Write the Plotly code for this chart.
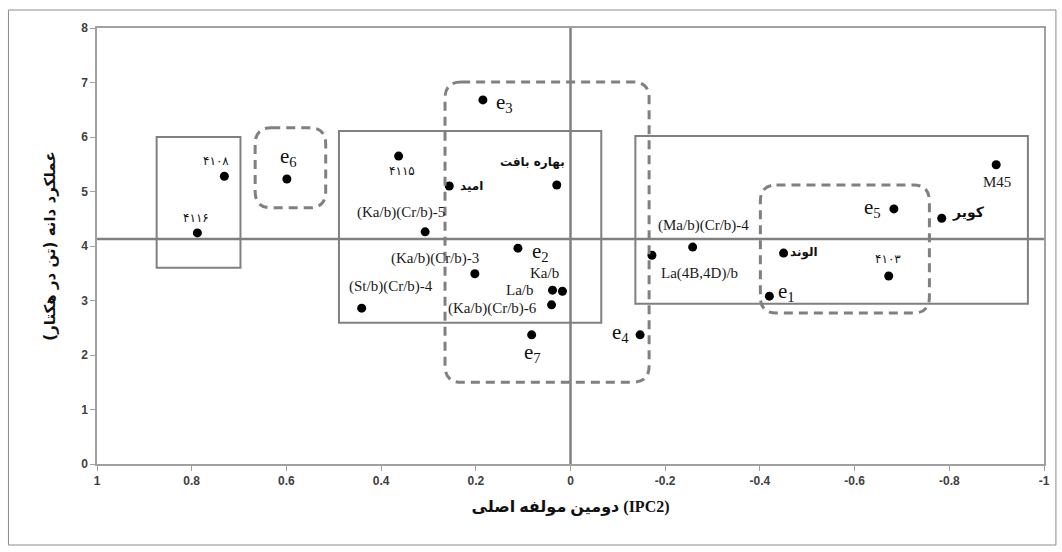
import plotly.graph_objects as go

# ---------------- data ----------------
labels = ["۴۱۰۸", "۴۱۱۶", "e6", "۴۱۱۵", "امید", "بهاره بافت", "(Ka/b)(Cr/b)-5", "e3",
          "e2", "(Ka/b)(Cr/b)-3", "(St/b)(Cr/b)-4", "La/b", "Ka/b", "(Ka/b)(Cr/b)-6",
          "e7", "e4", "La(4B,4D)/b", "(Ma/b)(Cr/b)-4", "الوند", "e1", "e5", "کویر",
          "M45", "۴۱۰۳"]
x_vals = [0.731, 0.788, 0.599, 0.363, 0.256, 0.029, 0.307, 0.185,
          0.111, 0.202, 0.441, 0.038, 0.017, 0.040,
          0.082, -0.147, -0.172, -0.258, -0.450, -0.420, -0.683, -0.784,
          -0.899, -0.672]
y_vals = [5.28, 4.24, 5.23, 5.65, 5.10, 5.12, 4.26, 6.68,
          3.96, 3.49, 2.86, 3.19, 3.17, 2.92,
          2.37, 2.37, 3.83, 3.98, 3.87, 3.08, 4.68, 4.51,
          5.49, 3.45]

mean_x = 0.0
mean_y = 4.13

x_ticks = [1, 0.8, 0.6, 0.4, 0.2, 0, -0.2, -0.4, -0.6, -0.8, -1]
y_ticks = [0, 1, 2, 3, 4, 5, 6, 7, 8]

# solid group boxes (x_left, x_right, y_bottom, y_top)
solid_boxes = [(0.874, 0.697, 3.60, 6.00),
               (0.489, -0.065, 2.59, 6.11),
               (-0.137, -0.966, 2.94, 6.02)]
# dashed rounded boxes
dashed_boxes = [(0.666, 0.517, 4.70, 6.17),
                (0.265, -0.166, 1.50, 7.01),
                (-0.401, -0.758, 2.77, 5.12)]

# label pixel offsets (dx, dy) relative to point ; dy positive = up
label_offsets = {
    "۴۱۰۸": (-8, 15), "۴۱۱۶": (-1, 15), "e6": (2, 22), "۴۱۱۵": (3, -15),
    "امید": (22, 0), "بهاره بافت": (-24, 23), "(Ka/b)(Cr/b)-5": (-24, 19),
    "e3": (22, -3), "e2": (23, -4), "(Ka/b)(Cr/b)-3": (-40, 15),
    "(St/b)(Cr/b)-4": (29, 22), "La/b": (-33, 0), "Ka/b": (-18, 18),
    "(Ka/b)(Cr/b)-6": (-59, -4), "e7": (1, -18), "e4": (-20, 2),
    "La(4B,4D)/b": (48, -18), "(Ma/b)(Cr/b)-4": (11, 22), "الوند": (20, 1),
    "e1": (17, 4), "e5": (-21, 1), "کویر": (27, 6), "M45": (1, -17),
    "۴۱۰۳": (-1, 17),
}
bold_persian = {"امید", "بهاره بافت", "الوند", "کویر"}

grey = "#808080"
fig = go.Figure()

fig.add_trace(go.Scatter(
    x=x_vals, y=y_vals, mode="markers",
    marker=dict(color="black", size=9),
    hoverinfo="text", text=labels, showlegend=False))

shapes = []
# center lines
shapes.append(dict(type="line", xref="x", yref="y", x0=mean_x, x1=mean_x, y0=0, y1=8,
                   line=dict(color=grey, width=2.5)))
shapes.append(dict(type="line", xref="paper", yref="y", x0=0, x1=1, y0=mean_y, y1=mean_y,
                   line=dict(color=grey, width=2.5)))
for (xl, xr, yb, yt) in solid_boxes:
    shapes.append(dict(type="rect", xref="x", yref="y", x0=xl, x1=xr, y0=yb, y1=yt,
                       line=dict(color=grey, width=2)))

rx, ry = 0.034, 0.30


def rounded(xl, xr, yb, yt):
    s = 1 if xl > xr else -1
    p = [f"M {xl - s*rx},{yt}", f"L {xr + s*rx},{yt}", f"Q {xr},{yt} {xr},{yt - ry}",
         f"L {xr},{yb + ry}", f"Q {xr},{yb} {xr + s*rx},{yb}",
         f"L {xl - s*rx},{yb}", f"Q {xl},{yb} {xl},{yb + ry}",
         f"L {xl},{yt - ry}", f"Q {xl},{yt} {xl - s*rx},{yt}", "Z"]
    return " ".join(p)


for (xl, xr, yb, yt) in dashed_boxes:
    shapes.append(dict(type="path", xref="x", yref="y", path=rounded(xl, xr, yb, yt),
                       line=dict(color=grey, width=3, dash="9px,6px")))

# outer chart frame
shapes.append(dict(type="rect", xref="paper", yref="paper", x0=-0.0935, x1=1.0126,
                   y0=-0.1858, y1=1.0413, line=dict(color="#8c8c8c", width=1), layer="below"))

annotations = []
for lab, x, y in zip(labels, x_vals, y_vals):
    dx, dy = label_offsets[lab]
    if lab.startswith("e") and len(lab) == 2:
        txt = f"e<sub>{lab[1]}</sub>"
        font = dict(family="Liberation Serif", size=21, color="#111111")
    elif any("\u0600" <= c <= "\u06FF" for c in lab):
        txt = f"<b>{lab}</b>" if lab in bold_persian else lab
        size = 14 if lab == "کویر" else 12
        font = dict(family="DejaVu Sans", size=size, color="#111111")
    else:
        txt = lab
        font = dict(family="Liberation Serif", size=15, color="#1a1a1a")
    annotations.append(dict(x=x, y=y, xref="x", yref="y", text=txt, showarrow=False,
                            xshift=dx, yshift=dy, font=font))

tick_font = dict(family="Liberation Sans", size=12, color="#404040")
fig.update_layout(
    width=1062, height=552,
    margin=dict(l=97, r=13, t=28, b=88),
    paper_bgcolor="white", plot_bgcolor="white",
    shapes=shapes, annotations=annotations,
    xaxis=dict(range=[1, -1], tickvals=x_ticks, ticktext=[f"{v:g}" for v in x_ticks],
               showgrid=False, zeroline=False, showline=True, mirror=True,
               linecolor="#a0a0a0", linewidth=1.5, ticks="outside", ticklen=5,
               tickcolor="#a0a0a0", tickfont=dict(tick_font, weight="bold"),
               title=dict(text="<b>دومین مولفه اصلی (IPC2)</b>", standoff=14,
                          font=dict(family="Liberation Serif, DejaVu Sans", size=16,
                                    color="#111111"))),
    yaxis=dict(range=[0, 8], tickvals=y_ticks, showgrid=False, zeroline=False,
               showline=True, mirror=True, linecolor="#a0a0a0", linewidth=1.5,
               ticks="outside", ticklen=5, tickcolor="#a0a0a0",
               tickfont=dict(tick_font, weight="bold"),
               title=dict(text="<b>عملکرد دانه (تن در هکتار)</b>", standoff=22,
                          font=dict(family="DejaVu Sans", size=15, color="#111111"))),
)

# remove the default 8px page margin so the 1062x552 figure fills the window exactly
fig.write_html("out.html", config={"displayModeBar": False},
               post_script="document.body.style.margin='0';")
